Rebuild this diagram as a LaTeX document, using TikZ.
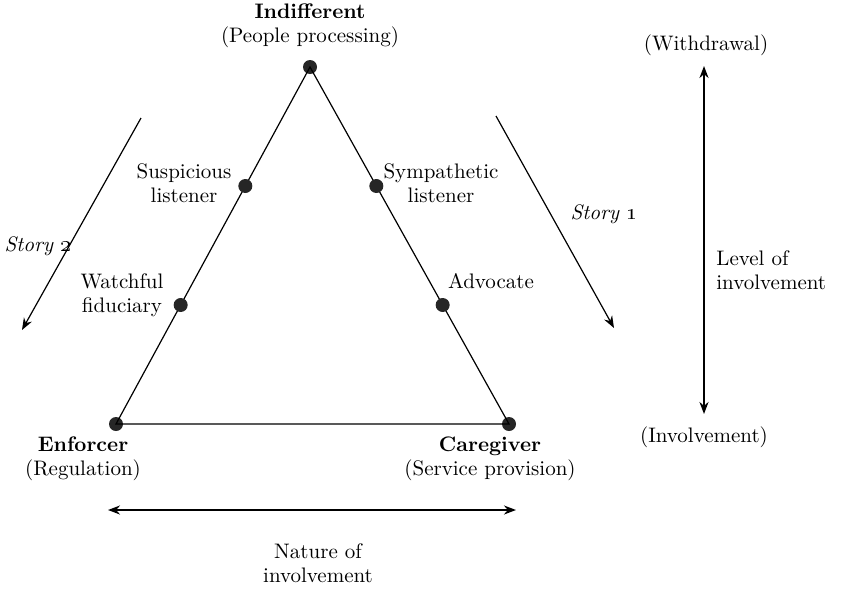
\documentclass[tikz,border=0pt]{standalone}
\usetikzlibrary{calc,arrows.meta}
\begin{document}
\begin{tikzpicture}[>={Stealth[length=6pt,width=4.5pt]},x=0.5pt,y=-0.5pt,
    font=\fontsize{10.5}{12.2}\selectfont,
    dot/.style={circle,fill=black!85,inner sep=0pt,minimum size=7pt},
    lab/.style={align=center,inner sep=0pt}]
    \useasboundingbox (0,0) rectangle (841,590);
    \node[dot](ind) at (310,67){};
    \node[dot](enf) at (116,424){};
    \node[dot](care) at (509,424){};
    \draw[line width=0.6pt](ind.center)--(enf.center)--(care.center)--cycle;
    \node[dot](susp) at ($(ind)!1/3!(enf)$){};
    \node[dot](watch) at ($(ind)!2/3!(enf)$){};
    \node[dot](symp) at ($(ind)!1/3!(care)$){};
    \node[dot](adv) at ($(ind)!2/3!(care)$){};
    \node[lab](indt) at (310,26){\textbf{Indifferent}\\(People processing)};
    \node[lab](suspt) at (184,183){Suspicious\\listener};
    \node[lab](watcht) at (122,295){Watchful\\fiduciary};
    \node[lab](sympt) at (441,183){Sympathetic\\listener};
    \node[lab](advt) at (491,281){Advocate};
    \node[lab](enft) at (83,459){\textbf{Enforcer}\\(Regulation)};
    \node[lab](caret) at (490,459){\textbf{Caregiver}\\(Service provision)};

    \coordinate (s2a) at (141,118); \coordinate (s2b) at (22,330);
    \coordinate (s1a) at (496,116); \coordinate (s1b) at (614,328);
    \draw[->,line width=0.6pt](s2a)--(s2b);
    \draw[->,line width=0.6pt](s1a)--(s1b);
    \node[lab](s2t) at (38,246){\textit{Story \oldstylenums{2}}};
    \node[lab](s1t) at (604,214){\textit{Story \oldstylenums{1}}};

    \node[lab](wd) at (706,45){(Withdrawal)};
    \node[lab](inv) at (704,437){(Involvement)};
    \draw[<->,line width=1pt](704,66)--(704,414);
    \node[lab,align=left,anchor=west](lev) at (716,270){Level of\\involvement};

    \coordinate (nl) at (108,510); \coordinate (nr) at (516,510);
    \draw[<->,line width=1pt](nl)--(nr);
    \node[lab](nat) at (318,563){Nature of\\involvement};
\end{tikzpicture}
\end{document}
